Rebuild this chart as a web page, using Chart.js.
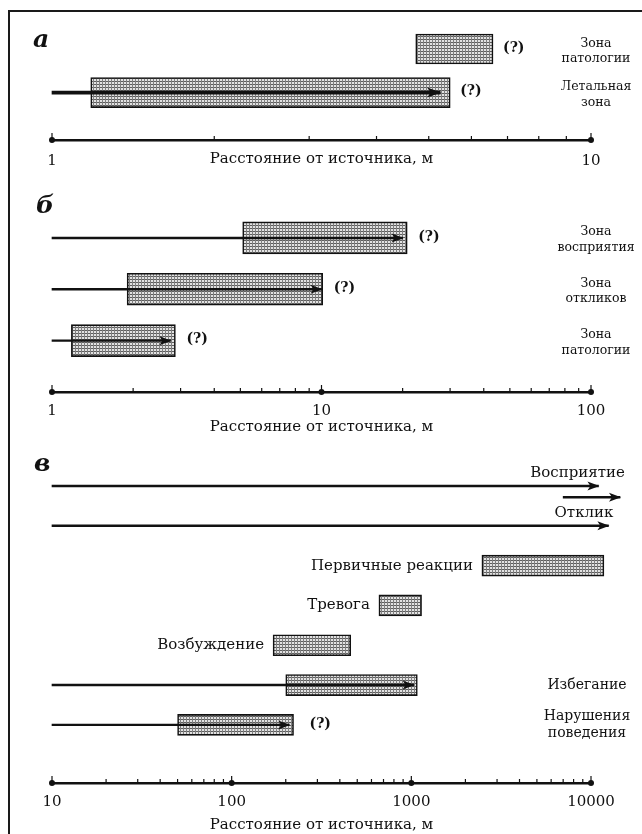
<!DOCTYPE html>
<html><head><meta charset="utf-8">
<script src="https://cdn.jsdelivr.net/npm/chart.js@4.4.0/dist/chart.umd.min.js"></script>
<style>
html,body{margin:0;padding:0;background:#fff;}
#wrap{position:relative;width:642px;height:834px;overflow:hidden;background:#fff;}
#frame{position:absolute;left:8px;top:10px;width:640px;height:830px;border-left:2px solid #1a1a1a;border-top:2px solid #1a1a1a;}
canvas{position:absolute;left:0;}
.lt{position:absolute;font:bold italic 25px "DejaVu Serif",serif;color:#111;line-height:1;}
</style></head><body>
<div id="wrap">
<div id="frame"></div>
<canvas id="cA" width="642" height="175" style="top:0px"></canvas>
<canvas id="cB" width="642" height="260" style="top:180px"></canvas>
<canvas id="cC" width="642" height="394" style="top:440px"></canvas>
<div class="lt" style="left:33px;top:26px">а</div>
<div class="lt" style="left:36px;top:192px">б</div>
<div class="lt" style="left:34px;top:450px">в</div>
</div>
<script>
// ---------- Panel а : 1–10 m ----------
const zonesA      = [['Зона','патологии'], ['Летальная','зона']];
const zoneFromA   = [4.73, 1.18];
const zoneToA     = [6.58, 5.48];
const arrowFromA  = [null, 1];
const arrowToA    = [null, 5.25];
const questionA   = [true, true];
const tickLabelsA = [1, 10];

// ---------- Panel б : 1–100 m ----------
const zonesB      = [['Зона','восприятия'], ['Зона','откликов'], ['Зона','патологии']];
const zoneFromB   = [5.1, 1.9, 1.18];
const zoneToB     = [20.8, 10.1, 2.87];
const arrowFromB  = [1, 1, 1];
const arrowToB    = [20, 10, 2.75];
const questionB   = [true, true, true];
const tickLabelsB = [1, 10, 100];

// ---------- Panel в : 10–10000 m ----------
const zonesC      = [['Восприятие'], ['Отклик'], ['Первичные реакции'], ['Тревога'], ['Возбуждение'], ['Избегание'], ['Нарушения','поведения']];
const zoneFromC   = [null, null, 2470, 660, 170, 200, 50];
const zoneToC     = [null, null, 11800, 1140, 460, 1080, 221];
const arrowFromC  = [10, 10, null, null, null, 10, 10];
const arrowToC    = [11000, 12500, null, null, null, 1030, 209];
const extraArrowFromC = [7000, null, null, null, null, null, null];
const extraArrowToC   = [14500, null, null, null, null, null, null];
const questionC   = [false, false, false, false, false, false, true];
const tickLabelsC = [10, 100, 1000, 10000];

const AXIS_TITLE = 'Расстояние от источника, м';

Chart.defaults.font.family = '"DejaVu Serif", serif';
Chart.defaults.font.size = 14;
Chart.defaults.color = '#111';

function logTicks(decades){
  const out = [];
  for (let d = 0; d < decades.length - 1; d++){
    for (let k = 1; k <= 9; k++) out.push(k * decades[d]);
  }
  out.push(decades[decades.length - 1]);
  return out;
}

function makePattern(ctx){
  const t = document.createElement('canvas'); t.width = 3; t.height = 3;
  const g = t.getContext('2d');
  g.fillStyle = '#e2e2e2'; g.fillRect(0,0,3,3);
  g.fillStyle = '#5e5e5e'; g.fillRect(0,0,3,1);
  g.fillStyle = '#808080'; g.fillRect(0,0,1,3);
  return ctx.createPattern(t, 'repeat');
}

const decor = {
  id: 'decor',
  afterDatasetsDraw(chart){
    const o = chart.options.plugins.decor;
    const ctx = chart.ctx;
    const xs = chart.scales.x, ys = chart.scales.y;
    ctx.save();
    // arrow heads
    chart.data.datasets.forEach((ds, di) => {
      if (!ds.isArrow) return;
      chart.getDatasetMeta(di).data.forEach(el => {
        const tip = el.x + 1, y = el.y;
        ctx.beginPath();
        ctx.moveTo(tip, y);
        ctx.lineTo(tip - o.headLen, y - o.headHalf);
        ctx.lineTo(tip - o.headLen * 0.75, y);
        ctx.lineTo(tip - o.headLen, y + o.headHalf);
        ctx.closePath();
        ctx.fillStyle = '#111';
        ctx.fill();
      });
    });
    // question marks
    ctx.font = 'bold 14px "DejaVu Serif", serif';
    ctx.fillStyle = '#111';
    ctx.textBaseline = 'middle';
    ctx.textAlign = 'left';
    o.question.forEach((q, i) => {
      if (!q) return;
      const px = xs.getPixelForValue(o.to[i]);
      ctx.fillText('(?)', px + o.qGap, ys.getPixelForValue(i) - 1);
    });
    // row labels
    o.names.forEach((lines, i) => {
      const yc = ys.getPixelForValue(i);
      const mode = o.placement[i];
      const lh = o.lineH;
      let x, y0;
      if (mode === 'right') {
        ctx.font = o.rightFont;
        ctx.textAlign = 'center'; x = o.rightX;
        y0 = yc - (lines.length - 1) * lh / 2 + o.rightDy;
      } else if (mode === 'left') {
        ctx.font = o.innerFont;
        ctx.textAlign = 'right'; x = xs.getPixelForValue(o.from[i]) - 9;
        y0 = yc;
      } else { // above the arrow, right aligned to its far end
        ctx.font = o.innerFont;
        ctx.textAlign = 'right';
        let end = xs.getPixelForValue(o.arrowTo[i]);
        if (o.extraTo && o.extraTo[i] != null) end = Math.max(end, xs.getPixelForValue(o.extraTo[i]));
        x = end + 5; y0 = yc - 13;
      }
      lines.forEach((t, k) => ctx.fillText(t, x, y0 + k * lh));
    });
    ctx.restore();
  },
  afterDraw(chart){
    const o = chart.options.plugins.decor;
    const ctx = chart.ctx;
    const xs = chart.scales.x;
    const axY = xs.top;
    ctx.save();
    ctx.strokeStyle = '#111'; ctx.fillStyle = '#111'; ctx.lineWidth = 1.2;
    xs.ticks.forEach(t => {
      const px = xs.getPixelForValue(t.value);
      const major = o.majors.includes(t.value);
      ctx.beginPath();
      ctx.moveTo(px, axY);
      ctx.lineTo(px, axY - (major ? 7 : 4));
      ctx.stroke();
      if (major) { ctx.beginPath(); ctx.arc(px, axY, 3, 0, Math.PI * 2); ctx.fill(); }
    });
    ctx.restore();
  }
};

function rows(n){ return Array.from({length:n}, (_, i) => i); }

function rowScale(min, max){
  return {
    type: 'linear', display: false, reverse: true, offset: false, grid: {offset: false},
    bounds: 'data', min, max,
    afterBuildTicks: s => { s.min = min; s.max = max; }
  };
}

function buildPanel(id, p){
  const canvas = document.getElementById(id);
  const ctx = canvas.getContext('2d');
  const n = p.names.length;
  const idx = rows(n);
  const datasets = [
    {
      data: idx.filter(i => p.from[i] != null).map(i => ({x: [p.from[i], p.to[i]], y: i})),
      backgroundColor: makePattern(ctx), borderColor: '#111', borderWidth: 1.6,
      borderSkipped: false, barThickness: p.barThick, grouped: false, clip: false, order: 2
    },
    {
      isArrow: true,
      data: idx.filter(i => p.arrowFrom[i] != null).map(i => ({x: [p.arrowFrom[i], p.arrowTo[i]], y: i})),
      backgroundColor: '#111', borderWidth: 0, barThickness: p.shaft, grouped: false, clip: false, order: 0
    }
  ];
  const scales = {
    x: {
      type: 'logarithmic', min: p.ticks[0], max: p.ticks[p.ticks.length - 1], offset: false,
      afterBuildTicks: s => { s.ticks = logTicks(p.ticks).map(v => ({value: v})); },
      afterFit: s => { s.height = p.axisH; },
      grid: {display: false, drawTicks: false},
      border: {display: true, color: '#111', width: 2.5},
      ticks: {autoSkip: false, maxRotation: 0, padding: p.tickPad, font: {size: 15},
              callback: v => p.ticks.includes(v) ? String(v) : ''},
      title: {display: true, text: AXIS_TITLE, font: {size: 15}, padding: {top: 0, bottom: p.titlePad}}
    },
    y: rowScale(-0.5, p.yMax)
  };
  if (p.extraFrom) {
    scales.y2 = rowScale(-0.5 - p.extraShift, p.yMax - p.extraShift);
    datasets.push({
      isArrow: true, yAxisID: 'y2',
      data: idx.filter(i => p.extraFrom[i] != null).map(i => ({x: [p.extraFrom[i], p.extraTo[i]], y: i})),
      backgroundColor: '#111', borderWidth: 0, barThickness: p.shaft, grouped: false, clip: false, order: 0
    });
  }
  return new Chart(canvas, {
    type: 'bar',
    data: {labels: [], datasets},
    options: {
      indexAxis: 'y', responsive: false, animation: false, events: [],
      layout: {padding: {left: 52, right: 51, top: p.padTop, bottom: 0}},
      scales,
      plugins: {
        legend: {display: false}, tooltip: {enabled: false},
        decor: {
          names: p.names, from: p.from, to: p.to, arrowTo: p.arrowTo, extraTo: p.extraTo,
          question: p.question, placement: p.placement, majors: p.ticks,
          rightX: p.rightX, rightDy: p.rightDy, lineH: p.lineH,
          rightFont: p.rightFont, innerFont: '15px "DejaVu Serif", serif',
          headLen: p.headLen, headHalf: p.headHalf, qGap: p.qGap
        }
      }
    },
    plugins: [decor]
  });
}

buildPanel('cA', {
  names: zonesA, from: zoneFromA, to: zoneToA, arrowFrom: arrowFromA, arrowTo: arrowToA,
  question: questionA, ticks: tickLabelsA, placement: ['right','right'],
  yMax: 2.09, padTop: 27.25, axisH: 35, tickPad: 12, titlePad: 6.6,
  barThick: 30, shaft: 3, headLen: 14, headHalf: 5, rightX: 596, rightDy: 2, qGap: 10,
  rightFont: '12.5px "DejaVu Serif", serif', lineH: 15.5
});
buildPanel('cB', {
  names: zonesB, from: zoneFromB, to: zoneToB, arrowFrom: arrowFromB, arrowTo: arrowToB,
  question: questionB, ticks: tickLabelsB, placement: ['right','right','right'],
  yMax: 3, padTop: 32.25, axisH: 48, tickPad: 10, titlePad: 3.6,
  barThick: 32, shaft: 1.8, headLen: 12, headHalf: 4.5, rightX: 596, rightDy: 2, qGap: 11,
  rightFont: '12.5px "DejaVu Serif", serif', lineH: 15.5
});
buildPanel('cC', {
  names: zonesC, from: zoneFromC, to: zoneToC, arrowFrom: arrowFromC, arrowTo: arrowToC,
  extraFrom: extraArrowFromC, extraTo: extraArrowToC, extraShift: 0.28,
  question: questionC, ticks: tickLabelsC,
  placement: ['above','above','left','left','left','right','right'],
  yMax: 7.46, padTop: 26.1, axisH: 51, tickPad: 10, titlePad: 0,
  barThick: 21, shaft: 1.8, headLen: 12, headHalf: 4.5, rightX: 587, rightDy: 0, qGap: 16,
  rightFont: '14px "DejaVu Serif", serif', lineH: 17
});
</script>
</body></html>
